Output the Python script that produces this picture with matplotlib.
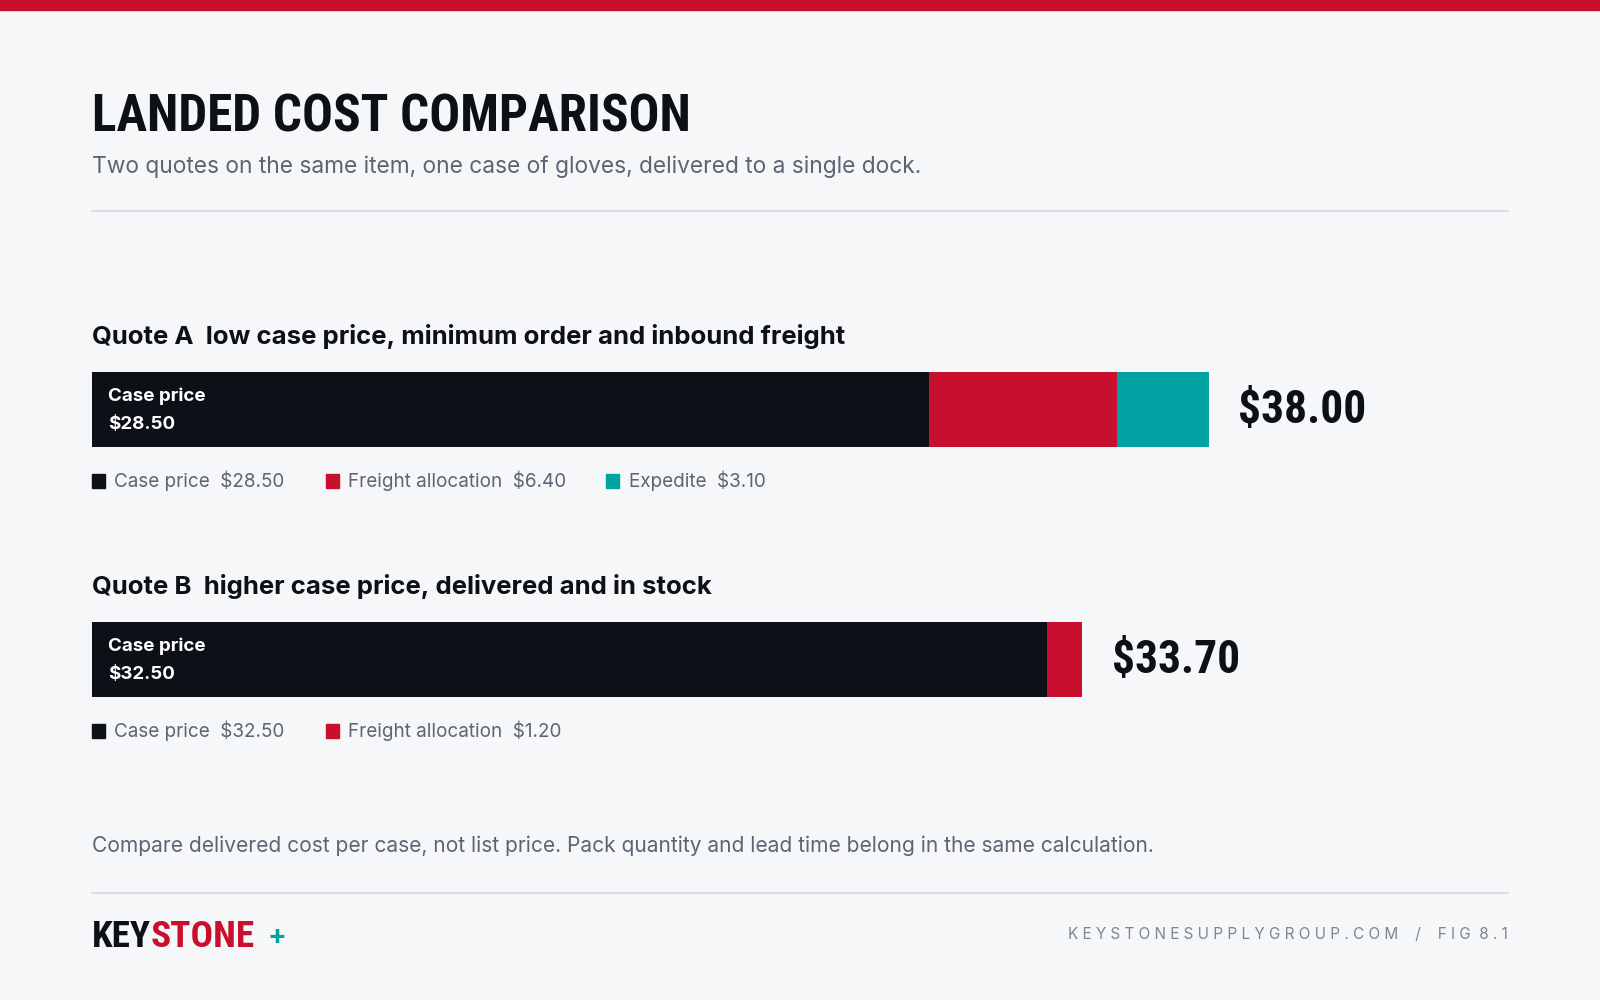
import matplotlib
matplotlib.use("Agg")
import matplotlib.pyplot as plt
from matplotlib.patches import Rectangle
from matplotlib import font_manager

quotes = ["Quote A", "Quote B"]
subtitles = ["low case price, minimum order and inbound freight", "higher case price, delivered and in stock"]
components = [["Case price", "Freight allocation", "Expedite"], ["Case price", "Freight allocation"]]
values = [[28.50, 6.40, 3.10], [32.50, 1.20]]
totals = ["$38.00", "$33.70"]
colors = {"Case price": "#0d1117", "Freight allocation": "#c8102e", "Expedite": "#00a3a1"}

W, H = 1568, 980
BG = "#f6f7f9"
fig = plt.figure(figsize=(16, 10), dpi=100, facecolor=BG)
BODY = ["Inter", "DejaVu Sans"]
names = {f.name for f in font_manager.fontManager.ttflist}
COND = [n for n in ["DejaVu Sans Condensed", "Liberation Sans Narrow", "Roboto Condensed"] if n in names] + ["DejaVu Sans"]

def fx(x): return x / W
def fy(y): return 1 - y / H

def fit(t, target_w):
    fig.canvas.draw()
    w = t.get_window_extent().width * W / fig.bbox.width
    t.set_fontsize(t.get_fontsize() * target_w / w)

fig.patches.append(Rectangle((0, fy(10)), 1, 10 / H, transform=fig.transFigure, color="#c8102e"))
tt = fig.text(fx(90), fy(115), "LANDED COST COMPARISON", family=COND, weight="bold", stretch="condensed",
              fontsize=40, color="#0d1117", va="center")
fit(tt, 585)
fig.text(fx(90), fy(163), "Two quotes on the same item, one case of gloves, delivered to a single dock.",
         family=BODY, fontsize=16.4, color="#5d6573", va="center")
for y in (207, 875):
    fig.add_artist(plt.Line2D([fx(90), fx(1478)], [fy(y), fy(y)], color="#d5d8dd", lw=1.2))

scale = 28.8  # px per dollar
xmax = (1478 - 90) / scale
tops = [365, 610]
for i in range(2):
    top = tops[i]
    fig.text(fx(90), fy(top - 35), f"{quotes[i]}  {subtitles[i]}", family=BODY, weight="bold", fontsize=18.5,
             color="#0d1117", va="center")
    ax = fig.add_axes([fx(90), fy(top + 73), fx(1478) - fx(90), 73 / H])
    ax.set_xlim(0, xmax); ax.set_ylim(0, 1); ax.axis("off")
    left = 0
    for c, v in zip(components[i], values[i]):
        ax.barh(0.5, v, left=left, height=1, color=colors[c], linewidth=0)
        left += v
    ax.text(0.55, 0.68, "Case price", color="white", family=BODY, weight="bold", fontsize=13.5, va="center")
    ax.text(0.55, 0.30, f"${values[i][0]:.2f}", color="white", family=BODY, weight="bold", fontsize=13.5, va="center")
    tot = ax.text(left + 1.0, 0.5, totals[i], family=COND, weight="bold", stretch="condensed",
                  fontsize=36, color="#0d1117", va="center")
    fit(tot, 126)
    lx = 90
    ly = top + 106
    for c, v in zip(components[i], values[i]):
        fig.patches.append(Rectangle((fx(lx), fy(ly + 7)), 13 / W, 13 / H, transform=fig.transFigure, color=colors[c]))
        fig.text(fx(lx + 22), fy(ly), f"{c}  ${v:.2f}", family=BODY, fontsize=13.6, color="#5d6573", va="center")
        lx += {"Case price": 229, "Freight allocation": 275, "Expedite": 200}[c]

fig.text(fx(90), fy(829), "Compare delivered cost per case, not list price. Pack quantity and lead time belong in the same calculation.",
         family=BODY, fontsize=15.1, color="#5d6573", va="center")
t1 = fig.text(fx(90), fy(918), "KEY", family=COND, weight="bold", stretch="condensed", fontsize=28, color="#0d1117", va="center")
fit(t1, 58)
fig.canvas.draw()
bb = t1.get_window_extent()
t2 = fig.text(bb.x1 / fig.bbox.width, fy(918), "STONE", family=COND, weight="bold", stretch="condensed",
              fontsize=t1.get_fontsize(), color="#c8102e", va="center")
fig.canvas.draw()
bb2 = t2.get_window_extent()
fig.text(bb2.x1 / fig.bbox.width + 0.008, fy(918), "+", family=BODY, weight="bold", fontsize=20, color="#00a3a1", va="center")
ft = fig.text(fx(1478), fy(916), "K E Y S T O N E S U P P L Y G R O U P . C O M    /    F I G  8 . 1", family=BODY,
              fontsize=11, color="#7d8591", va="center", ha="right")
fig.savefig("out.png", dpi=100, facecolor=BG)
